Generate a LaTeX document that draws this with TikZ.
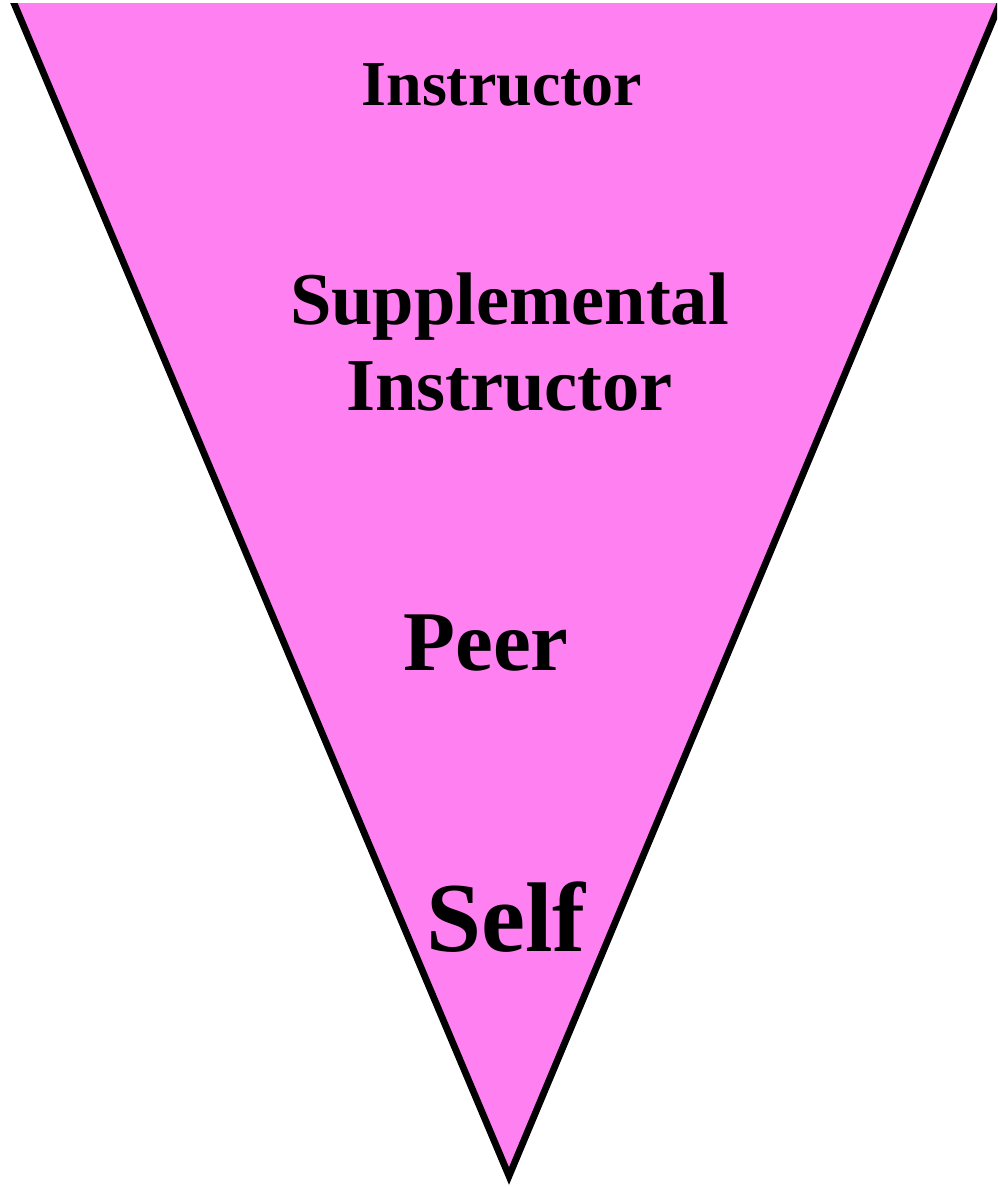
\documentclass[tikz,border=0pt]{standalone}
\usepackage{fontspec}
\setmainfont{Liberation Serif}
\definecolor{funnelpink}{RGB}{255,128,240}
\begin{document}
\begin{tikzpicture}[x=1pt,y=-1pt,
  level/.style={font=\bfseries, text=black, anchor=base, inner sep=0pt},
  edge/.style={draw=black, line width=6.8pt, line join=miter, miter limit=20}]
\useasboundingbox (0,0) rectangle (997,1187);
% funnel corners (top ones lie above the visible area)
\coordinate (tl) at (0,-30);
\coordinate (tr) at (1014,-30);
\coordinate (apex) at (509,1176);
\begin{scope}
  \clip (0,3) rectangle (997,1187);
  \fill[funnelpink] (tl) -- (apex) -- (tr) -- cycle;
  \draw[edge] (tl) -- (apex) -- (tr);
\end{scope}
% levels, from the wide end to the narrow one
\node[level, font=\bfseries\fontsize{64}{77}\selectfont] (instructor) at (502,105) {Instructor};
\node[level, font=\bfseries\fontsize{74.5}{89}\selectfont] (supp) at (509.5,324) {Supplemental};
\node[level, font=\bfseries\fontsize{74.5}{89}\selectfont] (suppinst) at (509.5,410) {Instructor};
\node[level, font=\bfseries\fontsize{85}{102}\selectfont] (peer) at (486,670) {Peer};
\node[level, font=\bfseries\fontsize{99}{118}\selectfont] (self) at (506,951) {Self};
\end{tikzpicture}
\end{document}
